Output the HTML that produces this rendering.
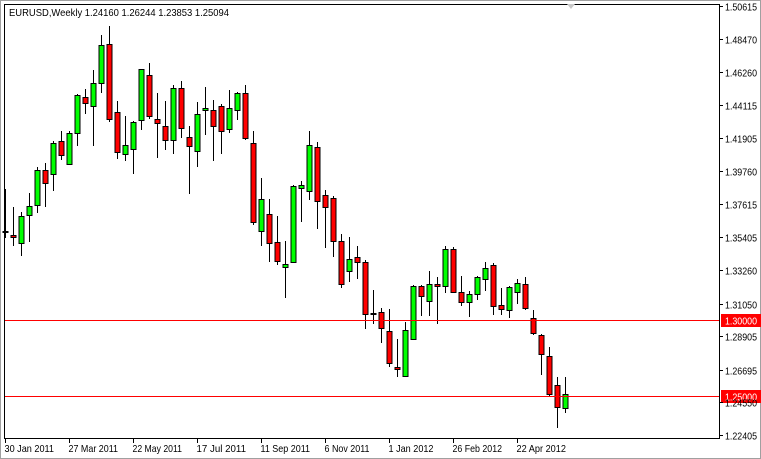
<!DOCTYPE html>
<html><head><meta charset="utf-8">
<style>
html,body{margin:0;padding:0;background:#fff;}
svg{display:block;font-family:"Liberation Sans",sans-serif;}
</style></head>
<body>
<svg id="chart" width="761" height="459" viewBox="0 0 761 459">
  <rect x="0" y="0" width="761" height="459" fill="#ffffff"/>
  <rect x="0.5" y="0.5" width="760" height="458" fill="none" stroke="#a0a0a0"/>
  <rect x="4.5" y="4.5" width="715" height="434" fill="none" stroke="#000"/>
  <g id="candles"></g>
  <g id="hlines"></g>
  <g id="yaxis"></g>
  <g id="xaxis"></g>
  <text x="9" y="16" font-size="10.5" fill="#000" textLength="220" lengthAdjust="spacingAndGlyphs">EURUSD,Weekly  1.24160 1.26244 1.23853 1.25094</text>
  <path d="M567 4 L575 4 L571 9 Z" fill="#c8c8c8"/>
</svg>
<script>
const opens  = [1.3575,1.3556,1.3503,1.3687,1.3753,1.3983,1.3957,1.4174,1.4023,1.4226,1.4463,1.4404,1.4555,1.4812,1.4365,1.4088,1.4121,1.4312,1.4608,1.4319,1.4272,1.4180,1.4522,1.4200,1.4108,1.4378,1.4378,1.4404,1.4253,1.4378,1.4489,1.4161,1.3582,1.3694,1.3510,1.3345,1.3378,1.3865,1.3845,1.4134,1.3819,1.3799,1.3516,1.3319,1.3411,1.3378,1.3043,1.3049,1.2924,1.2688,1.2628,1.2872,1.3220,1.3122,1.3233,1.3220,1.3463,1.3181,1.3115,1.3168,1.3266,1.3358,1.3095,1.3062,1.3181,1.3233,1.3010,1.2898,1.2760,1.2569,1.2416];
const highs  = [1.3858,1.3740,1.3707,1.3832,1.4003,1.4029,1.4174,1.4240,1.4240,1.4483,1.4516,1.4641,1.4871,1.4930,1.4437,1.4338,1.4305,1.4650,1.4687,1.4489,1.4437,1.4542,1.4568,1.4272,1.4430,1.4529,1.4443,1.4417,1.4509,1.4496,1.4542,1.4240,1.3931,1.3792,1.3681,1.3516,1.3885,1.3911,1.4240,1.4167,1.3852,1.3812,1.3562,1.3543,1.3483,1.3391,1.3194,1.3076,1.3069,1.2872,1.2984,1.3227,1.3227,1.3319,1.3279,1.3483,1.3477,1.3286,1.3187,1.3286,1.3378,1.3372,1.3207,1.3220,1.3266,1.3279,1.3062,1.2905,1.2819,1.2622,1.2624];
const lows   = [1.3536,1.3483,1.3418,1.3510,1.3700,1.3740,1.3845,1.4049,1.4016,1.4141,1.4351,1.4141,1.4489,1.4299,1.4055,1.4042,1.3957,1.4246,1.4319,1.4062,1.4115,1.4088,1.4194,1.3825,1.4003,1.4213,1.4042,1.4088,1.4226,1.4312,1.4180,1.3621,1.3483,1.3378,1.3358,1.3141,1.3372,1.3641,1.3786,1.3595,1.3470,1.3411,1.3207,1.3247,1.3266,1.2937,1.2970,1.2845,1.2688,1.2622,1.2622,1.2865,1.3023,1.3023,1.2970,1.3174,1.3174,1.3089,1.3017,1.3128,1.3187,1.3030,1.3030,1.3010,1.3102,1.3062,1.2898,1.2635,1.2490,1.2287,1.2385];
const closes = [1.3582,1.3543,1.3681,1.3746,1.3983,1.3898,1.4161,1.4082,1.4226,1.4476,1.4424,1.4555,1.4805,1.4319,1.4101,1.4147,1.4299,1.4647,1.4338,1.4292,1.4180,1.4522,1.4259,1.4141,1.4351,1.4391,1.4272,1.4240,1.4391,1.4489,1.4194,1.3641,1.3792,1.3503,1.3385,1.3365,1.3878,1.3885,1.4147,1.3779,1.3740,1.3516,1.3233,1.3398,1.3378,1.3036,1.3036,1.2944,1.2714,1.2675,1.2931,1.3220,1.3155,1.3233,1.3220,1.3463,1.3181,1.3115,1.3168,1.3279,1.3339,1.3089,1.3069,1.3214,1.3240,1.3076,1.2911,1.2773,1.2510,1.2425,1.2509];
const yTicks = [1.50615,1.48470,1.46260,1.44115,1.41905,1.39760,1.37615,1.35405,1.33260,1.31050,1.28905,1.26695,1.24550,1.22405];
const xLabels = ["30 Jan 2011","27 Mar 2011","22 May 2011","17 Jul 2011","11 Sep 2011","6 Nov 2011","1 Jan 2012","26 Feb 2012","22 Apr 2012"];
const xLabelIdx = [0,8,16,24,32,40,48,56,64];
const levels = [1.30000,1.25000];

const NS="http://www.w3.org/2000/svg";
const pMax=1.50615,pMin=1.22405,yTop=6,yBot=435;
function yS(p){return yTop+(pMax-p)/(pMax-pMin)*(yBot-yTop);}
function xS(i){return 5+8*i;}
function mk(tag,attrs,parent){const e=document.createElementNS(NS,tag);for(const k in attrs)e.setAttribute(k,attrs[k]);parent.appendChild(e);return e;}

const cg=document.getElementById('candles');
for(let i=0;i<opens.length;i++){
  const x=xS(i)+0.5;
  const up=closes[i]>=opens[i];
  const g=mk('g',{},cg);
  
  
  const w=mk('line',{x1:x,x2:x,y1:Math.round(yS(highs[i])),y2:Math.round(yS(lows[i])),stroke:'#000','stroke-width':1},g);
  
  
  const t=Math.round(yS(Math.max(opens[i],closes[i]))),b=Math.round(yS(Math.min(opens[i],closes[i])));
  const r=mk('rect',{x:x-2.5,y:t+0.5,width:5,height:Math.max(1,b-t),fill:up?'#00ff00':'#ff0000',stroke:'#000','stroke-width':1},g);
  
  
}

const ya=document.getElementById('yaxis');
yTicks.forEach(v=>{
  const y=Math.round(yS(v))+0.5;
  const l=mk('line',{x1:720,x2:723,y1:y,y2:y,stroke:'#000'},ya);
  
  
  const t=mk('text',{x:725,y:y+4,'font-size':10.5,fill:'#000',textLength:32,lengthAdjust:'spacingAndGlyphs'},ya);
  t.textContent=v.toFixed(5);
  
  
});

const hl=document.getElementById('hlines');
levels.forEach(v=>{
  const y=Math.round(yS(v))+0.5;
  const l=mk('line',{x1:5,x2:719,y1:y,y2:y,stroke:'#ff0000','stroke-width':1},hl);
  
  
  const bx=mk('rect',{x:721,y:y-6.5,width:40,height:13,fill:'#ff0000'},hl);
  
  
  const t=mk('text',{x:725,y:y+4,'font-size':10.5,fill:'#fff',textLength:32,lengthAdjust:'spacingAndGlyphs'},hl);
  t.textContent=v.toFixed(5);
  
  
});

const xa=document.getElementById('xaxis');
xLabels.forEach((s,k)=>{
  const x=xS(xLabelIdx[k])+0.5;
  const l=mk('line',{x1:x,x2:x,y1:439,y2:443,stroke:'#000'},xa);
  
  
  const t=mk('text',{x:x-1,y:452,'font-size':10.5,fill:'#000',textLength:(s.length*4.5).toFixed(1),lengthAdjust:'spacingAndGlyphs'},xa);
  t.textContent=s;
  
  
});
</script>
</body></html>
